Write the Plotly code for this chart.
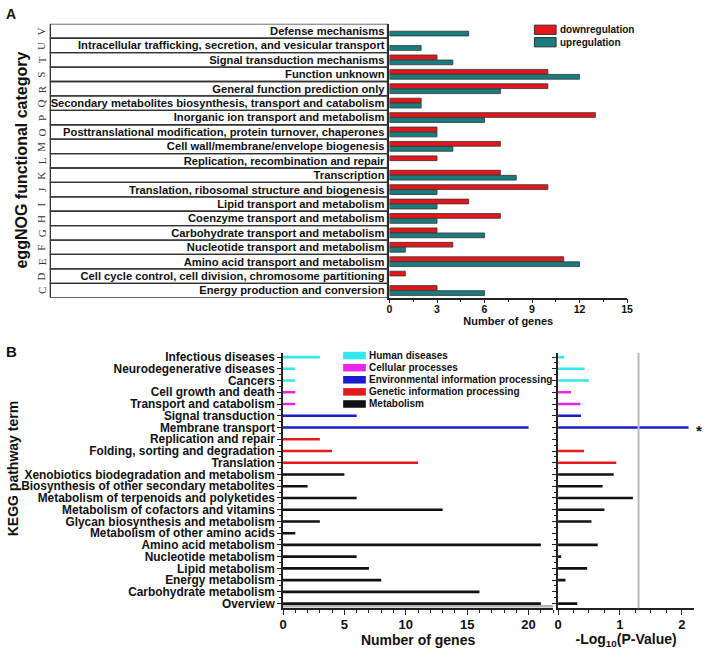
import plotly.graph_objects as go

# reference pixel frame is 709x649 (page body margin removed via post_script)
W, H = 709, 649
OX, OY = 0, 0
CW, CH = W - OX, H - OY
FONT = "Liberation Sans, Arial, sans-serif"
SERIF = "Liberation Serif, Times New Roman, serif"
AX = "#222222"

# ---------------- Panel A data (bottom -> top) ----------------
cog_letters = ["C", "D", "E", "F", "G", "H", "I", "J", "K", "L", "M", "O", "P", "Q", "R", "S", "T", "U", "V"]
cog_names = [
    "Energy production and conversion",
    "Cell cycle control, cell division, chromosome partitioning",
    "Amino acid transport and metabolism",
    "Nucleotide transport and metabolism",
    "Carbohydrate transport and metabolism",
    "Coenzyme transport and metabolism",
    "Lipid transport and metabolism",
    "Translation, ribosomal structure and biogenesis",
    "Transcription",
    "Replication, recombination and repair",
    "Cell wall/membrane/envelope biogenesis",
    "Posttranslational modification, protein turnover, chaperones",
    "Inorganic ion transport and metabolism",
    "Secondary metabolites biosynthesis, transport and catabolism",
    "General function prediction only",
    "Function unknown",
    "Signal transduction mechanisms",
    "Intracellular trafficking, secretion, and vesicular transport",
    "Defense mechanisms",
]
cog_down = [3, 1, 11, 4, 3, 7, 5, 10, 7, 3, 7, 3, 13, 2, 10, 10, 3, 0, 0]
cog_up = [6, 0, 12, 1, 6, 3, 3, 3, 8, 0, 4, 3, 6, 2, 7, 12, 4, 2, 5]
a_series = ["downregulation", "upregulation"]
a_colors = ["#e5151b", "#1a7d7d"]
a_ticks = [0, 3, 6, 9, 12, 15]

# ---------------- Panel B data (top -> bottom) ----------------
kegg_terms = [
    "Infectious diseases", "Neurodegenerative diseases", "Cancers",
    "Cell growth and death", "Transport and catabolism",
    "Signal transduction", "Membrane transport",
    "Replication and repair", "Folding, sorting and degradation", "Translation",
    "Xenobiotics biodegradation and metabolism",
    "Biosynthesis of other secondary metabolites",
    "Metabolism of terpenoids and polyketides",
    "Metabolism of cofactors and vitamins",
    "Glycan biosynthesis and metabolism",
    "Metabolism of other amino acids",
    "Amino acid metabolism", "Nucleotide metabolism", "Lipid metabolism",
    "Energy metabolism", "Carbohydrate metabolism", "Overview",
]
kegg_group = [0, 0, 0, 1, 1, 2, 2, 3, 3, 3, 4, 4, 4, 4, 4, 4, 4, 4, 4, 4, 4, 4]
kegg_genes = [3, 1, 1, 1, 1, 6, 20, 3, 4, 11, 5, 2, 6, 13, 3, 1, 21, 6, 7, 8, 16, 21]
kegg_logp = [0.10, 0.43, 0.50, 0.21, 0.36, 0.37, 2.11, 0, 0.42, 0.94, 0.90, 0.72,
             1.21, 0.75, 0.54, 0, 0.64, 0.05, 0.47, 0.12, 0, 0.31]
group_names = ["Human diseases", "Cellular processes", "Environmental information processing",
               "Genetic information processing", "Metabolism"]
group_colors = ["#33e8ec", "#e628e6", "#1c1ccc", "#e31b1b", "#111111"]
b_gene_ticks = [0, 5, 10, 15, 20]
b_p_ticks = [0, 1, 2]
p_threshold = 1.301  # -log10(0.05)
significant_term = "Membrane transport"


def px(x):
    return (x - OX) / CW


def py(y):
    return 1 - (y - OY) / CH


def nz(v):
    return [x if x else None for x in v]


fig = go.Figure()

# ---- Panel A bars ----
a_idx = list(range(len(cog_names)))
fig.add_trace(go.Bar(x=nz(cog_down), y=a_idx, orientation="h", width=0.33, offset=0.01,
                     name=a_series[0], marker=dict(color=a_colors[0], line=dict(color="#333", width=0.8)),
                     xaxis="x", yaxis="y"))
fig.add_trace(go.Bar(x=nz(cog_up), y=a_idx, orientation="h", width=0.33, offset=-0.34,
                     name=a_series[1], marker=dict(color=a_colors[1], line=dict(color="#333", width=0.8)),
                     xaxis="x", yaxis="y"))

# ---- Panel B bars ----
nB = len(kegg_terms)
b_idx = [nB - 1 - k for k in range(nB)]
for g, gname in enumerate(group_names):
    ys = [b_idx[k] for k in range(nB) if kegg_group[k] == g]
    xg = [kegg_genes[k] for k in range(nB) if kegg_group[k] == g]
    xp = [kegg_logp[k] for k in range(nB) if kegg_group[k] == g]
    fig.add_trace(go.Bar(x=nz(xg), y=ys, orientation="h", width=0.22, offset=-0.11, name=gname,
                         marker=dict(color=group_colors[g], line=dict(width=0)),
                         xaxis="x2", yaxis="y2"))
    fig.add_trace(go.Bar(x=nz(xp), y=ys, orientation="h", width=0.22, offset=-0.11, name=gname,
                         marker=dict(color=group_colors[g], line=dict(width=0)),
                         xaxis="x3", yaxis="y3", showlegend=False))

bold = dict(family=FONT, color="#111", weight="bold")


def f(size, **kw):
    d = dict(bold)
    d["size"] = size
    d.update(kw)
    return d


common_x = dict(ticks="outside", tickwidth=1.2, tickcolor=AX, showline=True, linecolor=AX,
                linewidth=1.5, showgrid=False, zeroline=False)

b_dom_y = [py(610), py(352.7)]
b_range = [-0.4, 21.35]
half_ticks = [i + 0.5 for i in range(nB - 1)]

fig.update_layout(
    width=CW, height=CH, margin=dict(l=0, r=0, t=0, b=0),
    plot_bgcolor="white", paper_bgcolor="white",
    barmode="overlay", showlegend=False,
    xaxis=dict(domain=[px(391), px(632)], range=[0, 15], anchor="y", tickmode="array",
               tickvals=a_ticks, ticklen=4, tickfont=f(10.5), ticklabelstandoff=-3,
               minor=dict(dtick=1.5, ticks="outside", ticklen=2.5, tickcolor=AX, tickwidth=1),
               title=dict(text="Number of genes", font=f(11), standoff=0), **common_x),
    yaxis=dict(domain=[py(297), py(21)], range=[-0.5, 18.5], anchor="x", tickmode="array",
               tickvals=a_idx, ticktext=cog_names, ticks="", showline=True, linecolor=AX,
               linewidth=1.5, showgrid=False, zeroline=False, tickfont=f(11.2),
               ticklabelstandoff=1),
    xaxis2=dict(domain=[px(283), px(557)], range=[0, 22], anchor="y2", tickmode="array",
                tickvals=b_gene_ticks, ticklen=5, tickfont=f(13), ticklabelstandoff=-2,
                minor=dict(dtick=1, ticks="outside", ticklen=3, tickcolor=AX, tickwidth=1),
                title=dict(text="Number of genes", font=f(14), standoff=2), **common_x),
    yaxis2=dict(domain=b_dom_y, range=b_range, anchor="x2", tickmode="array",
                tickvals=b_idx, ticktext=kegg_terms, ticklen=4, tickfont=f(11.9),
                minor=dict(tickmode="array", tickvals=half_ticks,
                           ticks="outside", ticklen=2, tickcolor=AX, tickwidth=1),
                **common_x),
    xaxis3=dict(domain=[px(562), px(700)], range=[0, 2.2], anchor="y3", tickmode="array",
                tickvals=b_p_ticks, ticklen=5, tickfont=f(13), ticklabelstandoff=-2,
                minor=dict(dtick=0.25, ticks="outside", ticklen=3, tickcolor=AX, tickwidth=1),
                title=dict(text="-Log<sub>10</sub>(P-Value)", font=f(14), standoff=2), **common_x),
    yaxis3=dict(domain=b_dom_y, range=b_range, anchor="x3", tickmode="array",
                tickvals=b_idx, showticklabels=False, ticklen=4,
                minor=dict(tickmode="array", tickvals=half_ticks,
                           ticks="outside", ticklen=2, tickcolor=AX, tickwidth=1),
                **common_x),
)

shapes = []
annotations = []

# Panel A category boxes and letters
for i, letter in enumerate(cog_letters):
    shapes.append(dict(type="rect", xref="paper", yref="y", x0=px(47), x1=px(389),
                       y0=i - 0.5, y1=i + 0.5, line=dict(color="#333", width=1.3)))
    annotations.append(dict(text=letter, xref="paper", yref="y", x=px(38), y=i, showarrow=False,
                            xanchor="center", yanchor="middle", textangle=-90,
                            font=dict(family=SERIF, size=11, color="#333")))

# Panel A legend
for k, (name, col) in enumerate(zip(a_series, a_colors)):
    yc = 27 + 12.5 * k
    shapes.append(dict(type="rect", xref="paper", yref="paper", x0=px(538), x1=px(560),
                       y0=py(yc - 4.7), y1=py(yc + 4.7), fillcolor=col, line=dict(color="#333", width=1)))
    annotations.append(dict(text=name, xref="paper", yref="paper", x=px(562), y=py(yc),
                            xanchor="left", yanchor="middle", showarrow=False, font=f(10)))

# Panel B legend
for k, (name, col) in enumerate(zip(group_names, group_colors)):
    yc = 355.3 + 12.2 * k
    shapes.append(dict(type="rect", xref="paper", yref="paper", x0=px(344), x1=px(367),
                       y0=py(yc - 3.8), y1=py(yc + 3.8), fillcolor=col, line=dict(width=0)))
    annotations.append(dict(text=name, xref="paper", yref="paper", x=px(368), y=py(yc),
                            xanchor="left", yanchor="middle", showarrow=False, font=f(10)))

# significance threshold line
shapes.append(dict(type="line", xref="x3", yref="y3 domain", x0=p_threshold, x1=p_threshold,
                   y0=0, y1=1, line=dict(color="#bbbbbb", width=2)))
# grey band under last row of left B plot
shapes.append(dict(type="rect", xref="x2 domain", yref="y2", x0=0, x1=1, y0=-0.33, y1=-0.12,
                   fillcolor="#b5b5b5", line=dict(width=0), layer="below"))

# asterisk for significant term
annotations.append(dict(text="*", xref="x3 domain", yref="y3", x=1.0,
                        y=b_idx[kegg_terms.index(significant_term)], xanchor="left", yanchor="middle",
                        xshift=0, yshift=-3, showarrow=False, font=f(15)))

# panel labels and y titles
annotations += [
    dict(text="A", xref="paper", yref="paper", x=px(7), y=py(11), xanchor="center", yanchor="middle",
         showarrow=False, font=f(14)),
    dict(text="B", xref="paper", yref="paper", x=px(7.5), y=py(351), xanchor="center", yanchor="middle",
         showarrow=False, font=f(15)),
    dict(text="eggNOG functional category", xref="paper", yref="paper", x=px(18), y=py(158),
         xanchor="center", yanchor="middle", textangle=-90, showarrow=False, font=f(16)),
    dict(text="KEGG pathway term", xref="paper", yref="paper", x=px(10), y=py(469),
         xanchor="center", yanchor="middle", textangle=-90, showarrow=False, font=f(14)),
]

fig.update_layout(shapes=shapes, annotations=annotations)
fig.write_html("out.html", config={"displayModeBar": False},
               post_script="document.body.style.margin='0';document.body.style.overflow='hidden';")
